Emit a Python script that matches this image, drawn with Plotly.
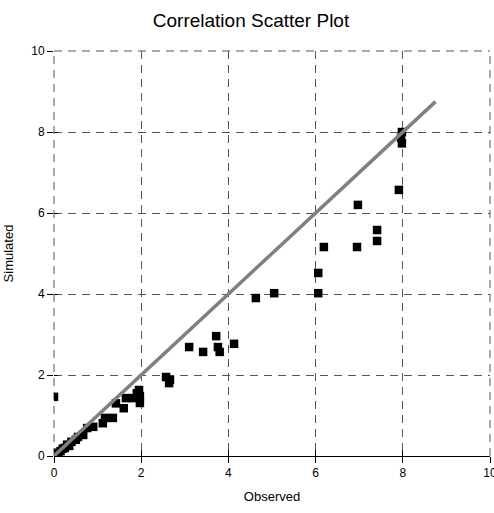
import plotly.graph_objects as go

observed = [0.0, 0.0, 0.02, 0.05, 0.1, 0.15, 0.2, 0.25, 0.3, 0.35, 0.4, 0.5, 0.55, 0.67,
            0.76, 0.9, 1.12, 1.17, 1.35, 1.42, 1.6, 1.65, 1.81, 1.9, 1.95, 1.97, 1.97,
            2.57, 2.64, 2.66, 3.1, 3.42, 3.72, 3.76, 3.8, 4.13, 4.63, 5.05,
            6.06, 6.06, 6.19, 6.95, 6.97, 7.41, 7.41, 7.91, 7.96, 7.98, 7.98]
simulated = [1.46, 0.0, 0.03, 0.05, 0.08, 0.12, 0.18, 0.2, 0.28, 0.25, 0.35, 0.4, 0.47, 0.52,
             0.69, 0.72, 0.81, 0.94, 0.94, 1.3, 1.18, 1.43, 1.43, 1.55, 1.63, 1.48, 1.31,
             1.95, 1.8, 1.88, 2.69, 2.57, 2.96, 2.69, 2.57, 2.77, 3.9, 4.02,
             4.52, 4.02, 5.16, 5.16, 6.2, 5.58, 5.31, 6.57, 7.85, 8.0, 7.72]
fit_x = [0.0, 8.75]
fit_y = [0.0, 8.75]
tick_vals = [0, 2, 4, 6, 8, 10]
tick_text = ["0", "2", "4", "6", "8", "10"]
axis_range = [0, 10]

grid_color = "#555555"
grid_dash = "8px,6px"

fig = go.Figure()
fig.add_trace(go.Scatter(x=observed, y=simulated, mode="markers",
                         marker=dict(symbol="square", size=8.5, color="black"),
                         showlegend=False))
fig.add_trace(go.Scatter(x=fit_x, y=fit_y, mode="lines",
                         line=dict(color="#808080", width=3.5), showlegend=False))
fig.add_trace(go.Scatter(x=[None], y=[None], xaxis="x2", yaxis="y2", showlegend=False))

# dashed frame lines at plot edges (left, right, top)
edge = dict(color=grid_color, width=1, dash=grid_dash)
fig.add_shape(type="line", xref="paper", yref="paper", x0=0, x1=0, y0=0, y1=1, line=edge, layer="below")
fig.add_shape(type="line", xref="paper", yref="paper", x0=1, x1=1, y0=0, y1=1, line=edge, layer="below")
fig.add_shape(type="line", xref="paper", yref="paper", x0=0, x1=1, y0=1, y1=1, line=edge, layer="below")

font = "Liberation Sans, Arial, sans-serif"
fig.update_layout(
    width=494, height=513,
    margin=dict(l=54, r=4, t=51, b=57),
    paper_bgcolor="white", plot_bgcolor="white",
    font=dict(family=font, size=12, color="black"),
    title=dict(text="Correlation Scatter Plot", x=251 / 494, xanchor="center",
               y=1 - 20 / 513, yanchor="middle", font=dict(size=19, family=font, color="black")),
    xaxis=dict(range=axis_range, tickvals=tick_vals, ticktext=tick_text, automargin=False,
               showgrid=True, gridcolor=grid_color, griddash=grid_dash, gridwidth=1,
               zeroline=False, showline=True, linecolor="black", linewidth=1,
               ticks="outside", ticklen=6, tickcolor="black", ticklabeloverflow="allow",
               title=dict(text="Observed", standoff=12, font=dict(size=13)),
               tickfont=dict(size=12)),
    yaxis=dict(range=axis_range, tickvals=tick_vals, ticktext=tick_text, automargin=False,
               showgrid=True, gridcolor=grid_color, griddash=grid_dash, gridwidth=1,
               zeroline=False, showline=False,
               ticks="outside", ticklen=6, tickcolor="black", ticklabeloverflow="allow",
               title=dict(text="Simulated", standoff=14, font=dict(size=13)),
               tickfont=dict(size=12)),
    xaxis2=dict(range=axis_range, tickvals=tick_vals, overlaying="x", showticklabels=False,
                ticks="inside", ticklen=6, tickcolor="black", showgrid=False, automargin=False,
                zeroline=False, anchor="y2", side="bottom"),
    yaxis2=dict(range=axis_range, tickvals=tick_vals, overlaying="y", showticklabels=False,
                ticks="inside", ticklen=4, tickcolor="black", showgrid=False, automargin=False,
                zeroline=False, anchor="x2", side="left"),
)
fig.write_html(
    "out.html",
    config={"displayModeBar": False},
    post_script=("document.body.style.margin='0';"
                 "document.body.style.overflow='hidden';"
                 "document.documentElement.style.overflow='hidden';"),
)
